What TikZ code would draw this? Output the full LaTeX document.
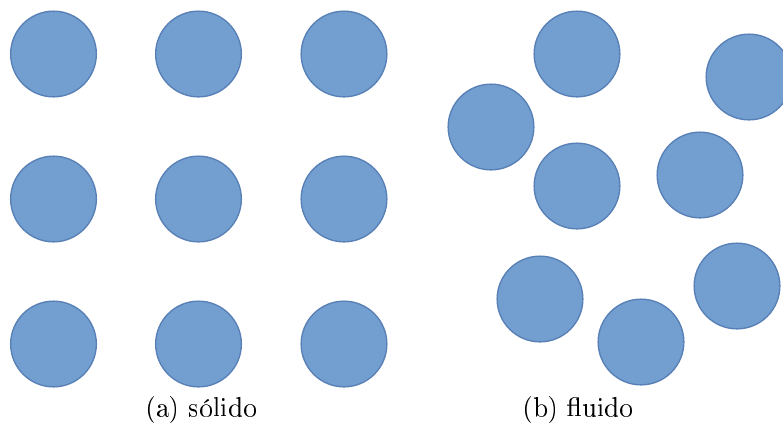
\documentclass[tikz,border=0pt]{standalone}
\usepackage[T1]{fontenc}
\begin{document}
\begin{tikzpicture}[x=0.371pt,y=-0.371pt,
  ball/.style={circle, fill=ballfill, draw=balledge, line width=0.5pt,
    minimum size=31.8pt, inner sep=0pt},
  caption/.style={font=\normalsize, inner sep=0pt}]
\definecolor{ballfill}{RGB}{114,159,207}
\definecolor{balledge}{RGB}{88,128,182}
\useasboundingbox (0,0) rectangle (783,427);
% (a) solid: regular lattice
\foreach \c/\x in {1/53.5,2/198.5,3/344}{
  \foreach \r/\y in {1/54,2/199,3/344}{
    \node[ball] (s\r\c) at (\x,\y) {};
  }
}
% (b) fluid: disordered arrangement
\node[ball] (f1) at (577,54) {};
\node[ball] (f2) at (749,77) {};
\node[ball] (f3) at (491,127) {};
\node[ball] (f4) at (577,186) {};
\node[ball] (f5) at (700,175) {};
\node[ball] (f6) at (540,299) {};
\node[ball] (f7) at (737,286) {};
\node[ball] (f8) at (641,342) {};
% captions
\node[caption] (ca) at (201,410) {(a) sólido};
\node[caption] (cb) at (578,410) {(b) fluido};
\end{tikzpicture}
\end{document}
